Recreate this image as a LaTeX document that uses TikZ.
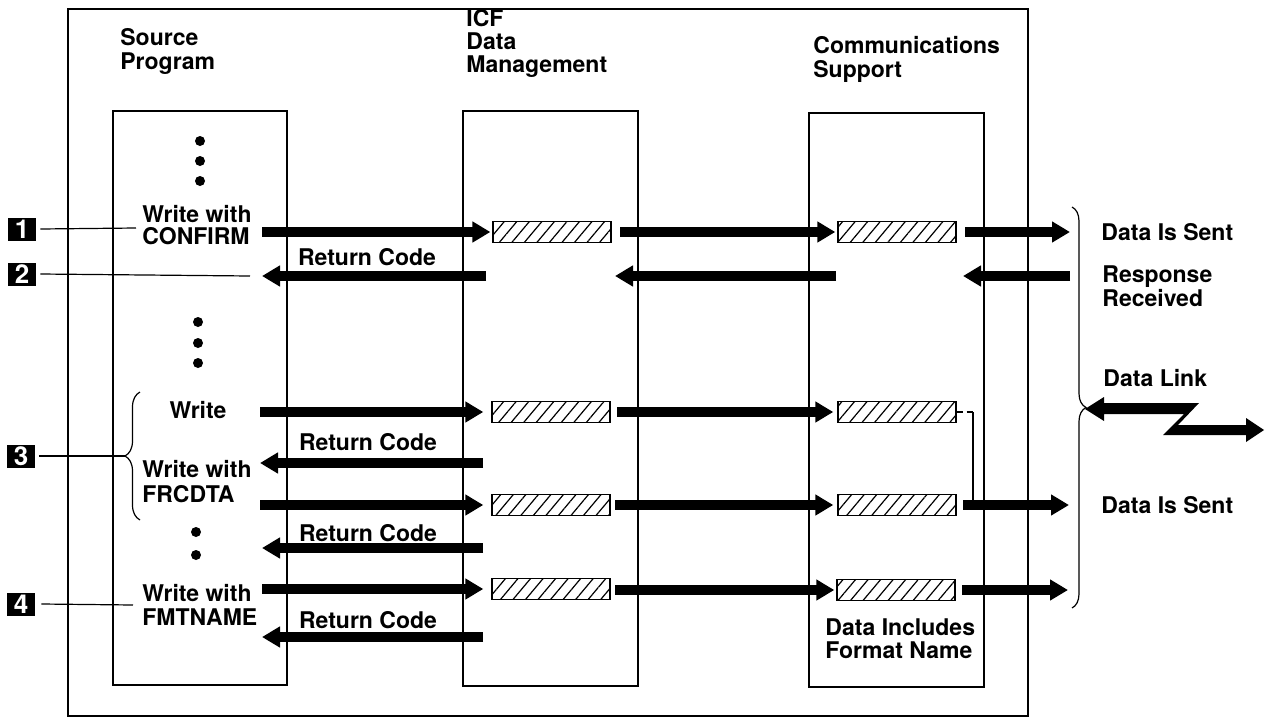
\documentclass[tikz,border=0pt]{standalone}
\usepackage{fontspec}
\setmainfont{TeX Gyre Heros}
\usetikzlibrary{arrows.meta,patterns.meta,decorations.pathreplacing}
\begin{document}
\begin{tikzpicture}[x=0.5pt,y=-0.5pt,
  lbl/.style={font=\bfseries\fontsize{11.5}{12}\selectfont, inner sep=0pt, align=left},
  frame/.style={draw, line width=0.75pt},
  hatch/.style={draw, line width=0.7pt, pattern={Lines[angle=50,distance=4.8pt,line width=0.6pt]}, minimum width=59pt, minimum height=10.5pt, inner sep=0pt},
  fat/.style={line width=4.6pt, -{Triangle[length=9pt,width=10pt]}},
  num/.style={fill=black, text=white, font=\bfseries\fontsize{13}{13}\selectfont, minimum width=14pt, minimum height=11.5pt, inner sep=0pt},
  lead/.style={line width=0.6pt},
  dot/.style={circle, fill=black, inner sep=0pt, minimum size=5pt},
]
\useasboundingbox (0,0) rectangle (1265,718);
% frames
\draw[frame] (68,9) rectangle (1028,716);
\draw[frame] (113,111) rectangle (287,685);
\draw[frame] (463,111) rectangle (638,686);
\draw[frame] (809,113) rectangle (984,687);
% headers (anchored at the baseline of the last line)
\node[lbl, anchor=base west] (hsrc) at (120,69) {Source\\Program};
\node[lbl, anchor=base west, font=\bfseries\fontsize{11.5}{11.5}\selectfont] (hicf) at (466,72) {ICF\\Data\\Management};
\node[lbl, anchor=base west] (hcom) at (813,77) {Communications\\Support};
% dots
\node[dot] (d1) at (200,141) {};
\node[dot] (d2) at (200,161) {};
\node[dot] (d3) at (200,181) {};
\node[dot] (d4) at (198,322) {};
\node[dot] (d5) at (198,343) {};
\node[dot] (d6) at (198,363) {};
\node[dot] (d7) at (196,532) {};
\node[dot] (d8) at (196,555) {};
% source texts
\node[lbl, anchor=base west, font=\bfseries\fontsize{11.5}{11}\selectfont] (wc) at (142,244) {Write with\\CONFIRM};
\node[lbl] (w) at (198,410) {Write};
\node[lbl, anchor=base west, font=\bfseries\fontsize{11.5}{12.5}\selectfont] (wf) at (142,502) {Write with\\FRCDTA};
\node[lbl, anchor=base west] (wm) at (142,625) {Write with\\FMTNAME};
% return codes
\node[lbl] (rc1) at (367,257) {Return Code};
\node[lbl] (rc2) at (368,442) {Return Code};
\node[lbl] (rc3) at (368,533) {Return Code};
\node[lbl] (rc4) at (368,620) {Return Code};
% right texts
\node[lbl, anchor=west] (ds1) at (1101,232) {Data Is Sent};
\node[lbl, anchor=base west] (rr) at (1102,306) {Response\\Received};
\node[lbl, anchor=west] (dl) at (1103,378) {Data Link};
\node[lbl, anchor=west] (ds2) at (1101,505) {Data Is Sent};
\node[lbl, anchor=base west, font=\bfseries\fontsize{11.5}{11.5}\selectfont] (dfn) at (825,658) {Data Includes\\Format Name};
% hatched boxes
\node[hatch] (iA) at (552,232) {};
\node[hatch] (cA) at (897,232) {};
\node[hatch] (iC) at (551,412) {};
\node[hatch] (cC) at (897,412) {};
\node[hatch] (iD) at (551,505) {};
\node[hatch] (cD) at (897,505) {};
\node[hatch] (iF) at (551,589) {};
\node[hatch] (cF) at (896,590) {};
% coordinates for free ends
\coordinate (sA) at (262,232);
\coordinate (mA) at (620,232);
\coordinate (oA0) at (965,232);
\coordinate (oA1) at (1070,232);
\coordinate (bS0) at (486,276); \coordinate (bS1) at (262,276);
\coordinate (bM0) at (836,276); \coordinate (bM1) at (615,276);
\coordinate (bO0) at (1070,276); \coordinate (bO1) at (963,276);
\coordinate (sC) at (260,412);
\coordinate (mC) at (617,412);
\coordinate (rC0) at (483,463); \coordinate (rC1) at (260,463);
\coordinate (sD) at (260,505);
\coordinate (mD) at (615,505);
\coordinate (jn) at (973,412);
\coordinate (jd) at (973,505);
\coordinate (oD0) at (963,505); \coordinate (oD1) at (1069,505);
\coordinate (rE0) at (483,548); \coordinate (rE1) at (262,548);
\coordinate (sF) at (262,589);
\coordinate (mF) at (615,590);
\coordinate (oF0) at (962,590); \coordinate (oF1) at (1068,590);
\coordinate (rG0) at (483,637); \coordinate (rG1) at (262,637);
% arrows
\draw[fat, shorten >=1pt] (sA) -- (iA.west);
\draw[fat, shorten >=1pt] (mA) -- (cA.west);
\draw[fat] (oA0) -- (oA1);
\draw[fat] (bS0) -- (bS1);
\draw[fat] (bM0) -- (bM1);
\draw[fat] (bO0) -- (bO1);
\draw[fat, shorten >=4pt] (sC) -- (iC.west);
\draw[fat, shorten >=2pt] (mC) -- (cC.west);
\draw[fat] (rC0) -- (rC1);
\draw[fat, shorten >=4pt] (sD) -- (iD.west);
\draw[fat, shorten >=2pt] (mD) -- (cD.west);
\draw[fat] (oD0) -- (oD1);
\draw[fat] (rE0) -- (rE1);
\draw[fat, shorten >=4pt] (sF) -- (iF.west);
\draw[fat, shorten >=1pt] (mF) -- (cF.west);
\draw[fat] (oF0) -- (oF1);
\draw[fat] (rG0) -- (rG1);
% dashed link
\draw[lead, dash pattern=on 3pt off 2pt] (cC.east) -- (jn);
\draw[lead] (jn) -- (jd);
% number boxes and leaders
\node[num] (n1) at (22,229) {1};
\node[num] (n2) at (22,274) {2};
\node[num] (n3) at (21,456) {3};
\node[num] (n4) at (21,604) {4};
\coordinate (e1) at (136,228);
\coordinate (e2) at (250,276);
\coordinate (e3) at (125,456);
\coordinate (e4) at (133,605);
\draw[lead] ([xshift=2pt]n1.east) -- (e1);
\draw[lead] ([xshift=2pt]n2.east) -- (e2);
\draw[lead] ([xshift=2pt]n3.east) -- (e3);
\draw[lead] ([xshift=3pt]n4.east) -- (e4);
% braces
\draw[lead, decorate, decoration={brace, amplitude=7.5pt}] (140,520) -- (140,392);
\draw[lead, decorate, decoration={brace, amplitude=7pt}] (1072,207) -- (1072,608);
% data link bolt
\fill (1085,409) -- (1104,397) -- (1104,403) -- (1199,403) -- (1178,425) -- (1246,425)
  -- (1246,418) -- (1264,430) -- (1246,442) -- (1246,435) -- (1163,435) -- (1184,414)
  -- (1104,414) -- (1104,421) -- cycle;
\end{tikzpicture}
\end{document}
